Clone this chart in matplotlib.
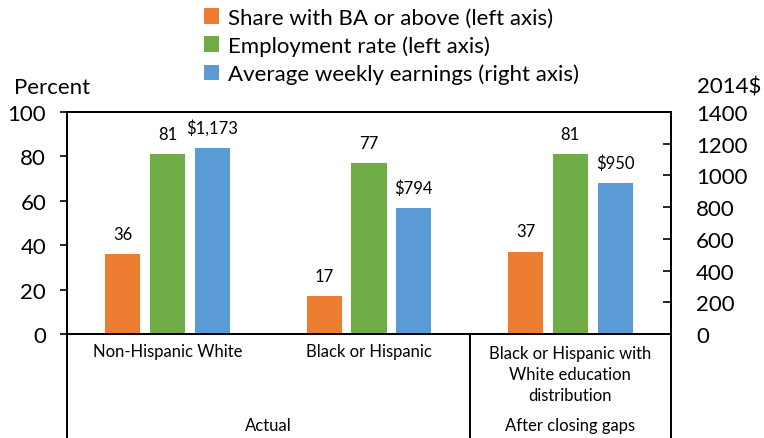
import matplotlib.pyplot as plt
import matplotlib.transforms as mtransforms

plt.rcParams['font.family'] = ['Lato', 'DejaVu Sans']

# datos
categorias = ["Non-Hispanic White", "Black or Hispanic",
              "Black or Hispanic with\nWhite education\ndistribution"]
grupos = ["Actual", "After closing gaps"]
share_ba = [36, 17, 37]
employment = [81, 77, 81]
earnings = [1173, 794, 950]

naranja = "#ED7D31"
verde = "#70AD47"
azul = "#5B9BD5"

fig = plt.figure(figsize=(7.64, 4.39), dpi=100)
ax = fig.add_axes([0.0877, 0.2369, 0.7906, 0.5057])
ax2 = ax.twinx()

x = list(range(len(categorias)))
ancho = 0.174
sep = 0.222

b1 = ax.bar([i - sep for i in x], share_ba, width=ancho, color=naranja,
            label="Share with BA or above (left axis)")
b2 = ax.bar(x, employment, width=ancho, color=verde,
            label="Employment rate (left axis)")
b3 = ax2.bar([i + sep for i in x], earnings, width=ancho, color=azul,
             label="Average weekly earnings (right axis)")

for i in x:
    ax.annotate(str(share_ba[i]), (i - sep, share_ba[i]), xytext=(0, 9),
                textcoords="offset points", ha="center", va="bottom", fontsize=12)
    ax.annotate(str(employment[i]), (i, employment[i]), xytext=(0, 9),
                textcoords="offset points", ha="center", va="bottom", fontsize=12)
    ax2.annotate("${:,}".format(earnings[i]), (i + sep, earnings[i]), xytext=(0, 9),
                 textcoords="offset points", ha="center", va="bottom", fontsize=12)

ax.set_xlim(-0.5, 2.5)
ax.set_ylim(0, 100)
ax2.set_ylim(0, 1400)
ax.set_yticks(range(0, 101, 20))
ax2.set_yticks(range(0, 1401, 200))
ax.set_xticks([])
ax.tick_params(axis="y", direction="out", length=5, width=1.2, labelsize=16, pad=10)
ax2.tick_params(axis="y", direction="in", length=6, width=1.2, labelsize=16, pad=18)
for lab in ax2.get_yticklabels():
    lab.set_ha("left")

for a in (ax, ax2):
    for s in a.spines.values():
        s.set_linewidth(1.4)
        s.set_color("black")

fig.text(0.018, 0.80, "Percent", fontsize=16, ha="left", va="center")
fig.text(0.997, 0.80, "2014$", fontsize=16, ha="right", va="center")

# etiquetas de categorias abajo
trans = mtransforms.blended_transform_factory(ax.transData, ax.transAxes)
ax.text(0, -0.077, categorias[0], transform=trans, ha="center", va="center", fontsize=12)
ax.text(1, -0.077, categorias[1], transform=trans, ha="center", va="center", fontsize=12)
ax.text(2, -0.18, categorias[2], transform=trans, ha="center", va="center", fontsize=12,
        linespacing=1.35, multialignment="center")
ax.text(0.5, -0.41, grupos[0], transform=trans, ha="center", va="center", fontsize=12)
ax.text(2, -0.41, grupos[1], transform=trans, ha="center", va="center", fontsize=12)

for xs in (-0.5, 1.5, 2.5):
    ax.plot([xs, xs], [0, -0.48], transform=trans, color="black", lw=1.4, clip_on=False)

fig.legend(handles=[b1, b2, b3], loc="upper left", bbox_to_anchor=(0.255, 1.0),
           frameon=False, fontsize=16, handlelength=0.7, handleheight=0.7,
           handletextpad=0.4, labelspacing=0.34, borderaxespad=0)

fig.savefig("out.png", dpi=100)
